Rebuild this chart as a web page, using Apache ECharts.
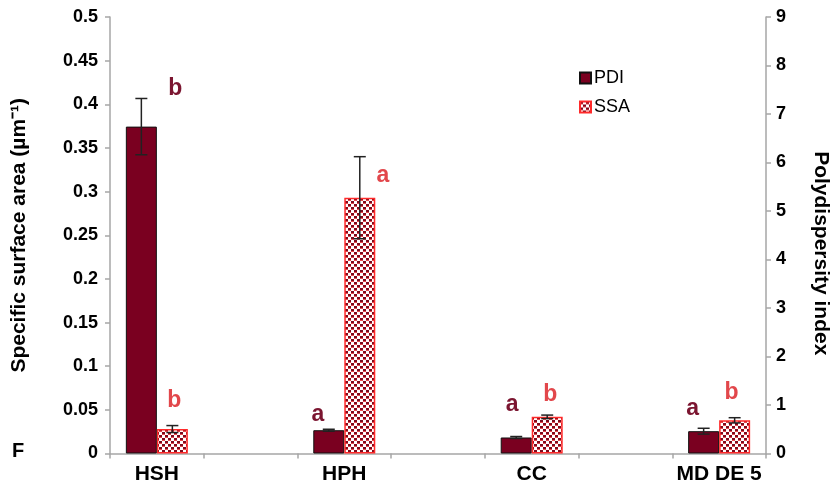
<!DOCTYPE html>
<html>
<head>
<meta charset="utf-8">
<script src="https://cdn.jsdelivr.net/npm/echarts@6/dist/echarts.min.js"></script>
<style>
  html, body { margin: 0; padding: 0; background: #fff; }
  #chart { width: 840px; height: 495px; }
</style>
</head>
<body>
<div id="chart"></div>
<script>
// Sample groups (empty slots keep the spacing between groups)
const categories = ['HSH', '', 'HPH', '', 'CC', '', 'MD DE 5'];

// Polydispersity index (right axis) and its standard deviation
const pdiValues = [6.74, null, 0.48, null, 0.33, null, 0.46];
const pdiErrors = [0.58, null, 0.02, null, 0.02, null, 0.06];

// Specific surface area, µm⁻¹ (left axis) and its standard deviation
const ssaValues = [0.028, null, 0.293, null, 0.042, null, 0.038];
const ssaErrors = [0.004, null, 0.047, null, 0.002, null, 0.003];

// Significance letters
const pdiLetters = ['b', '', 'a', '', 'a', '', 'a'];
const ssaLetters = ['b', '', 'a', '', 'b', '', 'b'];

const FONT = "'Liberation Sans', Arial, sans-serif";
const BAR_W = 31;
const PDI_COLOR = '#7A0020';
const PDI_LETTER = '#7B1530';
const SSA_LETTER = '#E2474B';

// Checkered fill used for the SSA bars
function makePattern() {
  const c = document.createElement('canvas');
  c.width = 6; c.height = 6;
  const g = c.getContext('2d');
  g.fillStyle = '#ffffff';
  g.fillRect(0, 0, 6, 6);
  g.fillStyle = '#7e0a1c';
  g.fillRect(0, 0, 3, 3);
  g.fillRect(3, 3, 3, 3);
  g.fillStyle = '#e8484c';
  g.fillRect(0, 2, 3, 1);
  g.fillRect(3, 5, 3, 1);
  return c;
}
const ssaFill = { image: makePattern(), repeat: 'repeat' };

// Letter placement relative to each bar top
const pdiLetterOffset = [[34, -38], null, [-11, -16], null, [-4, -33], null, [-11, -23]];
const ssaLetterOffset = [[2, -28], null, [23, -22], null, [3, -22], null, [-3, -28]];

function barData(values, letters, offsets, color) {
  return values.map((v, i) => {
    if (v == null) return '-';
    return {
      value: v,
      label: {
        show: true,
        formatter: letters[i],
        position: 'top',
        distance: 0,
        verticalAlign: 'middle',
        offset: offsets[i],
        color: color,
        fontFamily: FONT,
        fontWeight: 'bold',
        fontSize: 23
      }
    };
  });
}

function errorData(values, errors) {
  const out = [];
  values.forEach((v, i) => {
    if (v == null) return;
    out.push([i, v - errors[i], v + errors[i]]);
  });
  return out;
}

function errorRenderer(shift) {
  return function (params, api) {
    const i = api.value(0);
    const lo = api.coord([i, api.value(1)]);
    const hi = api.coord([i, api.value(2)]);
    const x = lo[0] + shift;
    const cap = 6;
    const style = { stroke: '#222', lineWidth: 1.5 };
    return {
      type: 'group',
      children: [
        { type: 'line', shape: { x1: x, y1: hi[1], x2: x, y2: lo[1] }, style },
        { type: 'line', shape: { x1: x - cap, y1: hi[1], x2: x + cap, y2: hi[1] }, style },
        { type: 'line', shape: { x1: x - cap, y1: lo[1], x2: x + cap, y2: lo[1] }, style }
      ]
    };
  };
}

const axisLineStyle = { lineStyle: { color: '#a6a6a6', width: 1.5 } };
const axisTickStyle = { show: true, length: 5, lineStyle: { color: '#a6a6a6', width: 1.5 } };

const chart = echarts.init(document.getElementById('chart'), null, { renderer: 'canvas' });
chart.setOption({
  animation: false,
  textStyle: { fontFamily: FONT },
  grid: { left: 110, right: 74, top: 17, bottom: 41.5 },
  legend: {
    orient: 'vertical',
    left: 574,
    top: 64,
    itemWidth: 11,
    itemHeight: 11,
    itemGap: 11,
    icon: 'rect',
    data: ['PDI', 'SSA'],
    textStyle: { fontFamily: FONT, fontSize: 18, color: '#000', padding: [0, 0, 0, -2] }
  },
  xAxis: {
    type: 'category',
    data: categories,
    axisLine: axisLineStyle,
    axisTick: axisTickStyle,
    axisLabel: { color: '#000', fontWeight: 'bold', fontSize: 21, margin: 10, interval: 0 },
    splitLine: { show: false }
  },
  yAxis: [
    {
      type: 'value',
      min: 0, max: 0.5, interval: 0.05,
      name: 'Specific surface area (µm⁻¹)',
      nameLocation: 'middle',
      nameGap: 80,
      nameTextStyle: { color: '#000', fontWeight: 'bold', fontSize: 21 },
      axisLine: Object.assign({ show: true }, axisLineStyle),
      axisTick: axisTickStyle,
      axisLabel: {
        color: '#000', fontWeight: 'bold', fontSize: 18, margin: 12,
        formatter: v => String(+v.toFixed(2))
      },
      splitLine: { show: false }
    },
    {
      type: 'value',
      position: 'right',
      min: 0, max: 9, interval: 1,
      name: 'Polydispersity index',
      nameLocation: 'middle',
      nameRotate: -90,
      nameGap: 44,
      nameTextStyle: { color: '#000', fontWeight: 'bold', fontSize: 21, padding: [0, 0, 0, 36] },
      axisLine: Object.assign({ show: true }, axisLineStyle),
      axisTick: axisTickStyle,
      axisLabel: { color: '#000', fontWeight: 'bold', fontSize: 18, margin: 10 },
      splitLine: { show: false }
    }
  ],
  series: [
    {
      name: 'PDI',
      type: 'bar',
      yAxisIndex: 1,
      barWidth: BAR_W,
      barGap: '0%',
      itemStyle: { color: PDI_COLOR, borderColor: '#111', borderWidth: 1 },
      data: barData(pdiValues, pdiLetters, pdiLetterOffset, PDI_LETTER),
      z: 2
    },
    {
      name: 'SSA',
      type: 'bar',
      yAxisIndex: 0,
      barWidth: BAR_W,
      barGap: '0%',
      itemStyle: { color: ssaFill, borderColor: '#ff2a2a', borderWidth: 1.5 },
      data: barData(ssaValues, ssaLetters, ssaLetterOffset, SSA_LETTER),
      z: 2
    },
    {
      type: 'custom',
      yAxisIndex: 1,
      renderItem: errorRenderer(-BAR_W / 2),
      encode: { x: 0, y: [1, 2] },
      data: errorData(pdiValues, pdiErrors),
      z: 5,
      silent: true
    },
    {
      type: 'custom',
      yAxisIndex: 0,
      renderItem: errorRenderer(BAR_W / 2),
      encode: { x: 0, y: [1, 2] },
      data: errorData(ssaValues, ssaErrors),
      z: 5,
      silent: true
    }
  ],
  graphic: [
    {
      type: 'text',
      left: 12,
      top: 441,
      style: { text: 'F', fontFamily: FONT, fontWeight: 'bold', fontSize: 20, fill: '#000' }
    }
  ]
});
</script>
</body>
</html>
